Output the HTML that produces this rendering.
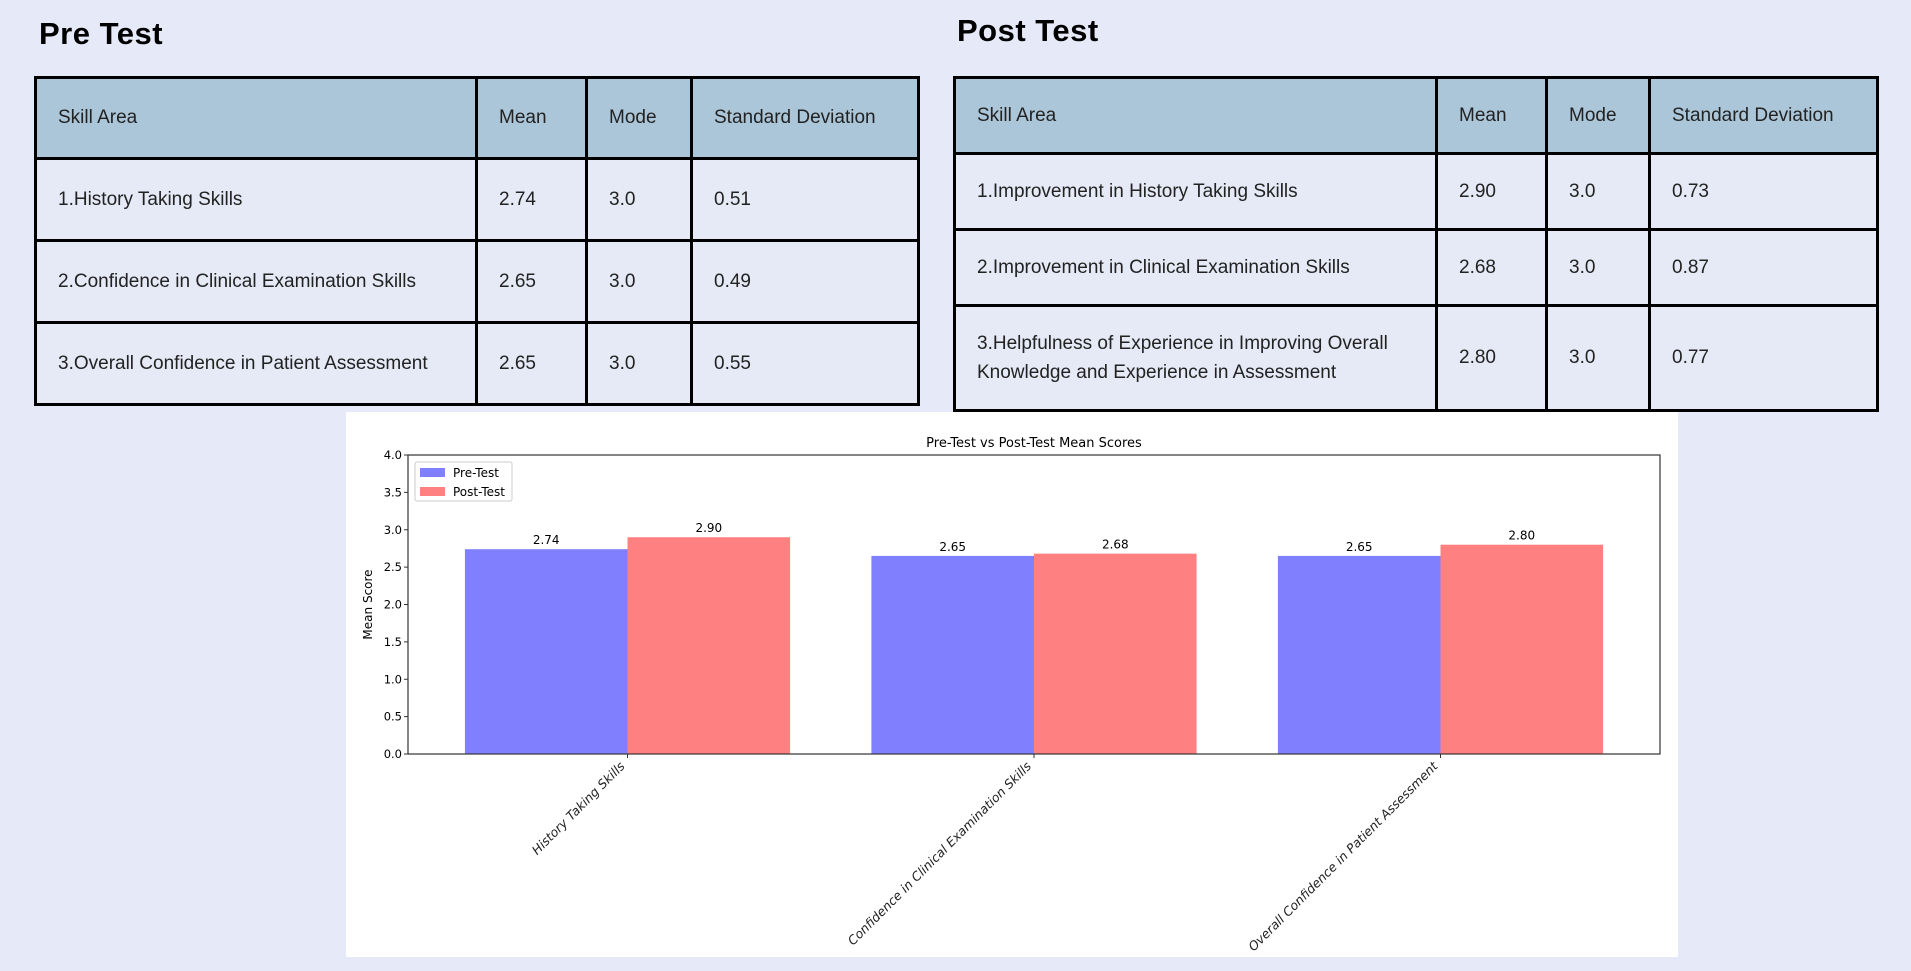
<!DOCTYPE html>
<html><head><meta charset="utf-8">
<style>
html,body{margin:0;padding:0;}
body{width:1911px;height:971px;background:#e6e9f7;position:relative;overflow:hidden;font-family:"Liberation Sans",sans-serif;}
.title{position:absolute;font-weight:bold;font-size:31px;color:#000;letter-spacing:0.5px;}
table{position:absolute;border-collapse:collapse;font-size:19px;color:#222;}
td,th{border:3px solid #000;text-align:left;font-weight:normal;padding:0 0 0 21px;background:#e6eaf6;}
th{background:#abc6d8;}
#chart{position:absolute;left:346px;top:412px;width:1332px;height:545px;background:#fff;}
</style></head><body>
<div class="title" style="left:39px;top:16px;">Pre Test</div>
<div class="title" style="left:957px;top:13px;">Post Test</div>

<table style="left:34px;top:76px;width:886px;height:330px;">
<colgroup><col style="width:441px"><col style="width:110px"><col style="width:105px"><col></colgroup>
<tr style="height:81px"><th>Skill Area</th><th>Mean</th><th>Mode</th><th>Standard Deviation</th></tr>
<tr style="height:82px"><td>1.History Taking Skills</td><td>2.74</td><td>3.0</td><td>0.51</td></tr>
<tr style="height:82px"><td>2.Confidence in Clinical Examination Skills</td><td>2.65</td><td>3.0</td><td>0.49</td></tr>
<tr style="height:82px"><td>3.Overall Confidence in Patient Assessment</td><td>2.65</td><td>3.0</td><td>0.55</td></tr>
</table>

<table style="left:953px;top:76px;width:926px;height:333px;">
<colgroup><col style="width:482px"><col style="width:110px"><col style="width:103px"><col></colgroup>
<tr style="height:76px"><th>Skill Area</th><th>Mean</th><th>Mode</th><th>Standard Deviation</th></tr>
<tr style="height:76px"><td>1.Improvement in History Taking Skills</td><td>2.90</td><td>3.0</td><td>0.73</td></tr>
<tr style="height:76px"><td>2.Improvement in Clinical Examination Skills</td><td>2.68</td><td>3.0</td><td>0.87</td></tr>
<tr style="height:105px"><td style="line-height:29px">3.Helpfulness of Experience in Improving Overall Knowledge and Experience in Assessment</td><td>2.80</td><td>3.0</td><td>0.77</td></tr>
</table>

<div id="chart">
<svg id="svg" width="1332" height="545" xmlns="http://www.w3.org/2000/svg" font-family="'DejaVu Sans','Liberation Sans',sans-serif"></svg>
</div>

<script>
const categories = ["History Taking Skills","Confidence in Clinical Examination Skills","Overall Confidence in Patient Assessment"];
const preValues = [2.74, 2.65, 2.65];
const postValues = [2.90, 2.68, 2.80];
const yTicks = [0.0,0.5,1.0,1.5,2.0,2.5,3.0,3.5,4.0];
const seriesNames = ["Pre-Test","Post-Test"];

const NS="http://www.w3.org/2000/svg";
const svg=document.getElementById('svg');
const ox=346, oy=412;
const L=408-ox, R=1660-ox, T=455-oy, B=754-oy;
const yMax=4;
function y(v){return B-(v/yMax)*(B-T);}
const n=categories.length;
const unit=(R-L)/(n-1+1.08);
function xc(i){return L+unit*(0.54+i);}
const bw=unit*0.4;
function mk(tag,attrs,text){const e=document.createElementNS(NS,tag);for(const k in attrs)e.setAttribute(k,attrs[k]);if(text!==undefined)e.textContent=text;svg.appendChild(e);return e;}

let e=mk('text',{x:(L+R)/2,y:T-8,'font-size':13,'text-anchor':'middle',fill:'#000'},'Pre-Test vs Post-Test Mean Scores');



preValues.forEach((v,i)=>{
  const r=mk('rect',{x:xc(i)-bw,y:y(v),width:bw,height:B-y(v),fill:'#8080ff'});
  
  
  const t=mk('text',{x:xc(i)-bw/2,y:y(v)-5,'font-size':12,'text-anchor':'middle',fill:'#000'},v.toFixed(2));
  
  
});
postValues.forEach((v,i)=>{
  const r=mk('rect',{x:xc(i),y:y(v),width:bw,height:B-y(v),fill:'#ff8080'});
  
  
  const t=mk('text',{x:xc(i)+bw/2,y:y(v)-5,'font-size':12,'text-anchor':'middle',fill:'#000'},v.toFixed(2));
  
  
});

e=mk('rect',{x:L,y:T,width:R-L,height:B-T,fill:'none',stroke:'#333','stroke-width':1.2});



yTicks.forEach(v=>{
  mk('line',{x1:L-4,x2:L,y1:y(v),y2:y(v),stroke:'#333'});
  const t=mk('text',{x:L-6,y:y(v)+4,'font-size':11.5,'text-anchor':'end',fill:'#000'},v.toFixed(1));
  
  
});
e=mk('text',{x:0,y:0,'font-size':12,'text-anchor':'middle',fill:'#000',transform:`translate(26,${(T+B)/2}) rotate(-90)`},'Mean Score');



categories.forEach((c,i)=>{
  mk('line',{x1:xc(i),x2:xc(i),y1:B,y2:B+4,stroke:'#333'});
  const t=mk('text',{x:0,y:0,'font-size':12.5,'text-anchor':'end','font-style':'oblique',fill:'#222',transform:`translate(${xc(i)-2},${B+13}) rotate(-45)`},c);
  
  
});

const lg=mk('rect',{x:L+7,y:T+7,width:97,height:39,fill:'#fff',stroke:'#ccc',rx:2});


const cols=['#8080ff','#ff8080'];
seriesNames.forEach((s,k)=>{
  mk('rect',{x:L+12,y:T+13+k*19,width:25,height:9,fill:cols[k]});
  const t=mk('text',{x:L+45,y:T+22+k*19,'font-size':12,fill:'#000'},s);
  
  
});
</script>
</body></html>
